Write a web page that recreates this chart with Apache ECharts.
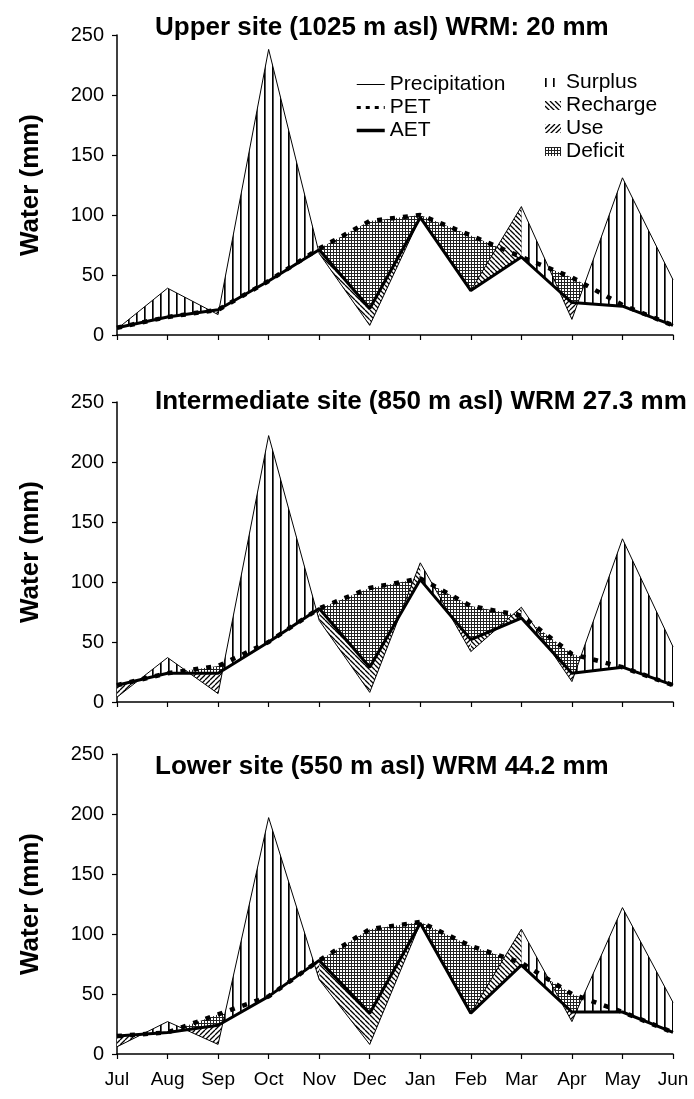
<!DOCTYPE html>
<html>
<head>
<meta charset="utf-8">
<script src="https://cdn.jsdelivr.net/npm/echarts@6/dist/echarts.min.js"></script>
<style>
  html, body { margin: 0; padding: 0; background: #fff; }
  #chart { width: 694px; height: 1099px; }
</style>
</head>
<body>
<div id="chart"></div>
<script>
// months along the x axis (water year Jul -> Jun)
const months = ['Jul', 'Aug', 'Sep', 'Oct', 'Nov', 'Dec', 'Jan', 'Feb', 'Mar', 'Apr', 'May', 'Jun'];
const yTicks = [0, 50, 100, 150, 200, 250];

// upper site (1025 m asl)
const upperPrecip = [5, 39, 17, 238, 68, 8, 98, 37, 107, 13, 131, 46];
const upperPET    = [6, 15, 21, 45, 72, 95, 100, 83, 65, 48, 25, 8];
const upperAET    = [6, 15, 21, 45, 71, 22, 98, 37, 65, 27, 24, 8];
// per month-to-month segment: 'R' = recharge hatch between precip and AET, 'S' = surplus above / use below
const upperBand   = ['S', 'S', 'S', 'S', 'R', 'R', 'S', 'R', 'S', 'S', 'S'];

// intermediate site (850 m asl)
const midPrecip = [4, 37, 7, 222, 68, 8, 116, 42, 79, 17, 136, 46];
const midPET    = [14, 24, 30, 50, 78, 95, 103, 80, 72, 40, 29, 14];
const midAET    = [14, 24, 24, 50, 78, 29, 102, 52, 70, 24, 29, 14];
const midBand   = ['S', 'S', 'S', 'S', 'R', 'R', 'S', 'R', 'S', 'S', 'S'];

// lower site (550 m asl)
const lowPrecip = [6, 27, 8, 197, 62, 8, 109, 34, 104, 27, 122, 43];
const lowPET    = [15, 18, 33, 48, 78, 104, 110, 90, 76, 50, 35, 18];
const lowAET    = [15, 18, 24, 48, 78, 34, 109, 34, 74, 35, 35, 18];
const lowBand   = ['S', 'S', 'S', 'S', 'R', 'R', 'S', 'R', 'S', 'S', 'S'];

const siteTitles = [
  'Upper site (1025 m asl) WRM: 20 mm',
  'Intermediate site (850 m asl) WRM 27.3 mm',
  'Lower site (550 m asl) WRM 44.2 mm'
];

const panels = [
  { p: upperPrecip, pet: upperPET, aet: upperAET, band: upperBand },
  { p: midPrecip,   pet: midPET,   aet: midAET,   band: midBand },
  { p: lowPrecip,   pet: lowPET,   aet: lowAET,   band: lowBand }
];

// hatch patterns
function makePattern(kind) {
  const c = document.createElement('canvas');
  let ctx;
  if (kind === 'S') {
    c.width = 8; c.height = 4;
    ctx = c.getContext('2d');
    ctx.fillStyle = '#fff'; ctx.fillRect(0, 0, 8, 4);
    ctx.fillStyle = '#000'; ctx.fillRect(0, 0, 1, 4);
    ctx.fillStyle = '#555'; ctx.fillRect(1, 0, 1, 4);
  } else if (kind === 'R' || kind === 'U') {
    const n = 5;
    c.width = n; c.height = n;
    ctx = c.getContext('2d');
    ctx.fillStyle = '#fff'; ctx.fillRect(0, 0, n, n);
    ctx.strokeStyle = '#000'; ctx.lineWidth = 1.3;
    ctx.beginPath();
    for (let k = -1; k <= 1; k++) {
      if (kind === 'R') { ctx.moveTo(k * n, 0); ctx.lineTo(k * n + n, n); }
      else { ctx.moveTo(k * n, n); ctx.lineTo(k * n + n, 0); }
    }
    ctx.stroke();
  } else {
    c.width = 3; c.height = 3;
    ctx = c.getContext('2d');
    ctx.fillStyle = '#fff'; ctx.fillRect(0, 0, 3, 3);
    ctx.fillStyle = '#222'; ctx.fillRect(0, 0, 3, 1); ctx.fillRect(0, 0, 1, 3);
  }
  return { image: c, repeat: 'repeat' };
}
const patterns = { S: makePattern('S'), R: makePattern('R'), U: makePattern('U'), D: makePattern('D') };

// pieces of the band between two lines for one segment, split where they cross
function bandPieces(top, bottom, i, api) {
  const a = top[i] - bottom[i], b = top[i + 1] - bottom[i + 1];
  const t0 = api.coord([i, top[i]]), t1 = api.coord([i + 1, top[i + 1]]);
  const b0 = api.coord([i, bottom[i]]), b1 = api.coord([i + 1, bottom[i + 1]]);
  if (a * b >= 0) return [{ pts: [t0, t1, b1, b0], sign: a + b }];
  const f = a / (a - b);
  const c = [t0[0] + (t1[0] - t0[0]) * f, t0[1] + (t1[1] - t0[1]) * f];
  return [{ pts: [t0, c, b0], sign: a }, { pts: [c, t1, b1], sign: b }];
}

const segs = months.slice(0, -1).map((m, i) => [i, 0]);
const grids = [], xAxes = [], yAxes = [], titles = [], series = [];
const tops = [35, 402, 754];
const titleTops = [10, 384, 749];

panels.forEach((pn, k) => {
  grids.push({ left: 117, right: 21, top: tops[k], height: 300 });
  titles.push({
    text: siteTitles[k], left: 150, top: titleTops[k],
    textStyle: { fontFamily: 'Arial', fontSize: 26, fontWeight: 'bold', color: '#000' }
  });
  xAxes.push({
    type: 'category', gridIndex: k, data: months, boundaryGap: false,
    axisLine: { lineStyle: { color: '#000', width: 1.5 } },
    axisTick: { show: true, length: 5, lineStyle: { color: '#000', width: 1.2 } },
    axisLabel: { show: k === 2, color: '#000', fontFamily: 'Arial', fontSize: 19, margin: 16 },
    splitLine: { show: false }
  });
  yAxes.push({
    type: 'value', gridIndex: k,
    min: yTicks[0], max: yTicks[yTicks.length - 1], interval: yTicks[1] - yTicks[0],
    name: 'Water (mm)', nameLocation: 'middle', nameGap: 73,
    nameTextStyle: { fontFamily: 'Arial', fontSize: 26, fontWeight: 'bold', color: '#000' },
    axisLine: { show: true, lineStyle: { color: '#000', width: 1.5 } },
    axisTick: { show: true, length: 5, lineStyle: { color: '#000', width: 1.2 } },
    axisLabel: { color: '#000', fontFamily: 'Arial', fontSize: 20, margin: 13 },
    splitLine: { show: false }
  });

  const band = (name, pick, z) => ({
    name: name, type: 'custom', xAxisIndex: k, yAxisIndex: k, z: z,
    silent: true, data: segs, encode: { x: 0, y: 1 },
    itemStyle: { color: patterns[pick] },
    renderItem: function (params, api) {
      const i = api.value(0);
      let pieces = [];
      if (pick === 'D') {
        pieces = bandPieces(pn.pet, pn.aet, i, api).filter(q => q.sign > 0);
      } else {
        pieces = bandPieces(pn.p, pn.aet, i, api).filter(q => {
          if (pn.band[i] === 'R') return pick === 'R';
          if (pick === 'S') return q.sign > 0;
          if (pick === 'U') return q.sign < 0;
          return false;
        });
      }
      return {
        type: 'group',
        children: pieces.map(q => ({
          type: 'polygon', shape: { points: q.pts },
          style: { fill: patterns[pick], stroke: null }
        }))
      };
    }
  });
  series.push(band('Deficit', 'D', 1));
  series.push(band('Surplus', 'S', 2));
  series.push(band('Recharge', 'R', 2));
  series.push(band('Use', 'U', 2));

  series.push({
    name: 'Precipitation', type: 'line', xAxisIndex: k, yAxisIndex: k, z: 4,
    data: pn.p, symbol: 'none', silent: true, color: '#000',
    lineStyle: { color: '#000', width: 1 }
  });
  series.push({
    name: 'PET', type: 'line', xAxisIndex: k, yAxisIndex: k, z: 3,
    data: pn.pet, symbol: 'none', silent: true, color: '#000',
    lineStyle: { color: '#000', width: 4.5, type: [5, 8] }
  });
  series.push({
    name: 'AET', type: 'line', xAxisIndex: k, yAxisIndex: k, z: 5,
    data: pn.aet, symbol: 'none', silent: true, color: '#000',
    lineStyle: { color: '#000', width: 3 }
  });
});

const chart = echarts.init(document.getElementById('chart'));
chart.setOption({
  animation: false,
  backgroundColor: '#fff',
  title: titles,
  grid: grids,
  xAxis: xAxes,
  yAxis: yAxes,
  legend: [
    {
      data: [
        { name: 'Precipitation', lineStyle: { width: 1 } },
        { name: 'PET', lineStyle: { width: 3, type: [4, 5] } },
        { name: 'AET', lineStyle: { width: 3.5 } }
      ],
      orient: 'vertical', left: 350, top: 69,
      itemWidth: 28, itemHeight: 14, itemGap: 2, selectedMode: false,
      itemStyle: { opacity: 0 },
      textStyle: { fontFamily: 'Arial', fontSize: 21, color: '#000' }
    },
    {
      data: ['Surplus', 'Recharge', 'Use', 'Deficit'], orient: 'vertical', left: 540, top: 67,
      icon: 'rect', itemWidth: 16, itemHeight: 9, itemGap: 2, selectedMode: false,
      textStyle: { fontFamily: 'Arial', fontSize: 21, color: '#000' }
    }
  ],
  series: series
});
</script>
</body>
</html>
